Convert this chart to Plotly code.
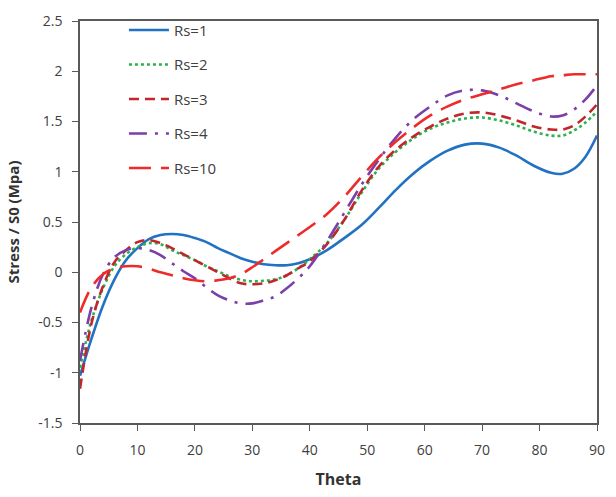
import plotly.graph_objects as go

theta = [0, 2, 4, 6, 8, 10, 12, 14, 16, 18, 20, 22, 24, 26, 28, 30, 32, 34, 36, 38, 40,
         43, 46, 49, 52, 55, 58, 61, 64, 67, 70, 73, 76, 79, 82, 84, 86, 88, 90]

rs1 = [-1.03, -0.66, -0.33, -0.07, 0.12, 0.24, 0.33, 0.37, 0.38, 0.37, 0.34, 0.30, 0.24, 0.19, 0.14, 0.105, 0.08, 0.07, 0.07, 0.09, 0.13,
       0.22, 0.34, 0.47, 0.64, 0.82, 0.98, 1.11, 1.21, 1.27, 1.28, 1.24, 1.16, 1.06, 0.99, 0.98, 1.03, 1.15, 1.36]
rs2 = [-0.95, -0.48, -0.16, 0.06, 0.18, 0.25, 0.29, 0.28, 0.22, 0.17, 0.12, 0.06, 0.01, -0.04, -0.075, -0.09, -0.085, -0.07, -0.03, 0.04, 0.13,
       0.29, 0.52, 0.79, 1.03, 1.20, 1.33, 1.43, 1.49, 1.53, 1.54, 1.51, 1.46, 1.40, 1.36, 1.36, 1.41, 1.49, 1.60]
rs3 = [-1.16, -0.51, -0.14, 0.10, 0.22, 0.30, 0.32, 0.29, 0.24, 0.18, 0.12, 0.06, 0.00, -0.06, -0.11, -0.12, -0.11, -0.08, -0.03, 0.04, 0.11,
       0.28, 0.52, 0.81, 1.05, 1.22, 1.35, 1.45, 1.53, 1.58, 1.59, 1.56, 1.51, 1.45, 1.42, 1.42, 1.46, 1.55, 1.67]
rs4 = [-0.88, -0.35, -0.02, 0.15, 0.22, 0.24, 0.22, 0.17, 0.09, 0.01, -0.06, -0.15, -0.23, -0.28, -0.31, -0.31, -0.28, -0.24, -0.16, -0.06, 0.06,
       0.31, 0.59, 0.87, 1.12, 1.34, 1.52, 1.65, 1.76, 1.81, 1.81, 1.76, 1.68, 1.60, 1.55, 1.56, 1.62, 1.72, 1.86]
rs10 = [-0.40, -0.15, -0.02, 0.04, 0.06, 0.06, 0.035, 0.0, -0.03, -0.06, -0.08, -0.09, -0.08, -0.06, -0.02, 0.05, 0.13, 0.21, 0.29, 0.37, 0.45,
        0.58, 0.75, 0.95, 1.14, 1.30, 1.44, 1.56, 1.65, 1.72, 1.77, 1.82, 1.87, 1.91, 1.95, 1.96, 1.97, 1.97, 1.97]

names = ["Rs=1", "Rs=2", "Rs=3", "Rs=4", "Rs=10"]
series = [rs1, rs2, rs3, rs4, rs10]
colors = ["#2272C3", "#2EB04F", "#C0262B", "#7B3FA8", "#EE2A2A"]
dashes = ["solid", "dot", "10px,6px", "18px,8px,3px,8px", "22px,10px"]

x_ticks = [0, 10, 20, 30, 40, 50, 60, 70, 80, 90]
y_ticks = [-1.5, -1, -0.5, 0, 0.5, 1, 1.5, 2, 2.5]
y_labels = ["-1.5", "-1", "-0.5", "0", "0.5", "1", "1.5", "2", "2.5"]

fig = go.Figure()
for i, (n, s, c, d) in enumerate(zip(names, series, colors, dashes)):
    fig.add_trace(go.Scatter(
        x=theta, y=s, name=n, mode="lines",
        line=dict(color=c, width=2.6, dash=d, shape="spline", smoothing=1.0),
        legendgroup=f"g{i}",
    ))

font_family = "Open Sans, Liberation Sans, sans-serif"
fig.update_layout(
    width=616, height=497,
    margin=dict(l=80, r=11, t=14, b=70),
    paper_bgcolor="white", plot_bgcolor="white",
    font=dict(family=font_family, size=14, color="#404040"),
    showlegend=True,
    legend=dict(
        x=0.085, y=1.018, xanchor="left", yanchor="top",
        bgcolor="rgba(255,255,255,0)",
        font=dict(size=15, color="#404040"),
        traceorder="grouped", tracegroupgap=12,
        itemwidth=40,
    ),
    xaxis=dict(
        range=[0, 90], tickvals=x_ticks, ticktext=[str(v) for v in x_ticks],
        showline=True, linecolor="#595959", linewidth=1.5, mirror=True,
        ticks="outside", ticklen=6, tickcolor="#595959", ticklabelstandoff=7,
        showgrid=False, zeroline=False,
        title=dict(text="<b>Theta</b>", font=dict(size=16, color="#333333"), standoff=16),
    ),
    yaxis=dict(
        range=[-1.5, 2.5], tickvals=y_ticks, ticktext=y_labels,
        showline=True, linecolor="#595959", linewidth=1.5, mirror=True,
        ticks="outside", ticklen=6, tickcolor="#595959", ticklabelstandoff=7,
        showgrid=False, zeroline=False,
        title=dict(text="<b>Stress / S0 (Mpa)</b>", font=dict(size=15, color="#333333"), standoff=15),
    ),
)

fig.write_html("out.html")
